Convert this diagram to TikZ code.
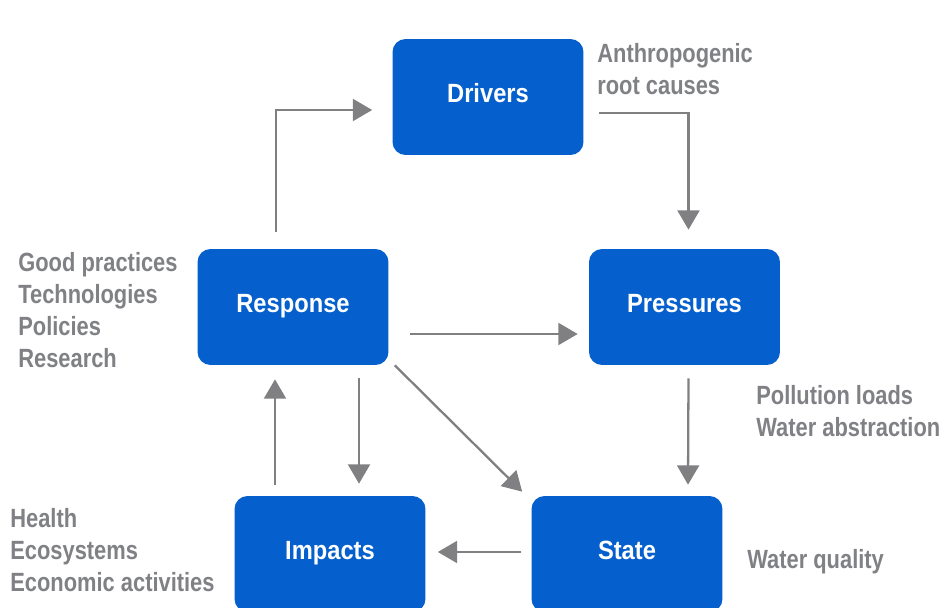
\documentclass[tikz,border=0pt]{standalone}
\usepackage{fontspec}
\newfontfamily\dpsirfont[FakeStretch=0.83]{Liberation Sans}
\newfontfamily\stagefont[FakeStretch=0.9]{Liberation Sans}
\usetikzlibrary{calc,arrows.meta}
\definecolor{boxblue}{RGB}{5,95,204}
\definecolor{txtgray}{RGB}{128,129,133}
\definecolor{arrgray}{RGB}{128,128,131}
\tikzset{
  stage/.style={fill=boxblue, rounded corners=7.4pt, minimum width=3.82cm, minimum height=2.32cm,
    inner sep=0pt, text height=10pt, text depth=3.2pt, text=white,
    font=\stagefont\bfseries\fontsize{15}{18}\selectfont},
  note/.style={anchor=west, align=left, inner sep=0pt, text=txtgray,
    font=\dpsirfont\bfseries\fontsize{15}{18.3}\selectfont},
  flow/.style={draw=arrgray, line width=1.3pt, -{Triangle[length=11pt,width=12.5pt]}}
}

\begin{document}
\begin{tikzpicture}[x=0.02cm, y=-0.02cm]
	%%%%% START %%%%%
	\fill[white] (0,0) rectangle (947,608);
	\useasboundingbox (0,0) rectangle (947,608);
	
	% the five stages
	\node[stage] (drv) at (488,97) {Drivers};
	\node[stage] (resp) at (293,307) {Response};
	\node[stage] (pres) at (684.5,307) {Pressures};
	\node[stage] (imp) at (330,554) {Impacts};
	\node[stage] (state) at (627,554) {State};
	
	% side notes
	\node[note] (causes) at (597,69) {Anthropogenic\\root causes};
	\node[note] (measures) at (18,310) {Good practices\\Technologies\\Policies\\Research};
	\node[note] (loads) at (756,411) {Pollution loads\\Water abstraction};
	\node[note] (effects) at (10,550) {Health\\Ecosystems\\Economic activities};
	\node[note] (quality) at (747,562) {Water quality};
	
	% arrows
	\draw[flow] ($(resp.north)+(-17,-17)$) |- ($(drv.west)+(-20,13)$);
	\draw[flow] ($(drv.east)+(15,16)$) -| ($(pres.north)+(4,-19)$);
	\draw[flow] ($(resp.east)+(21,27)$) -- ($(pres.west)+(-11,27)$);
	\draw[flow] ($(pres.south)+(4,13)$) -- ($(state.north)+(61,-11)$);
	\draw[flow] ($(resp.south east)+(6,0)$) -- ($(state.north west)+(-9,-4)$);
	\draw[flow] ($(resp.south)+(66,13)$) -- ($(imp.north)+(29,-12)$);
	\draw[flow] ($(imp.north)+(-55,-11)$) -- ($(resp.south)+(-18,14)$);
	\draw[flow] ($(state.west)+(-10,-2)$) -- ($(imp.east)+(12,-2)$);
	%%%%% END %%%%%
\end{tikzpicture}
\end{document}
